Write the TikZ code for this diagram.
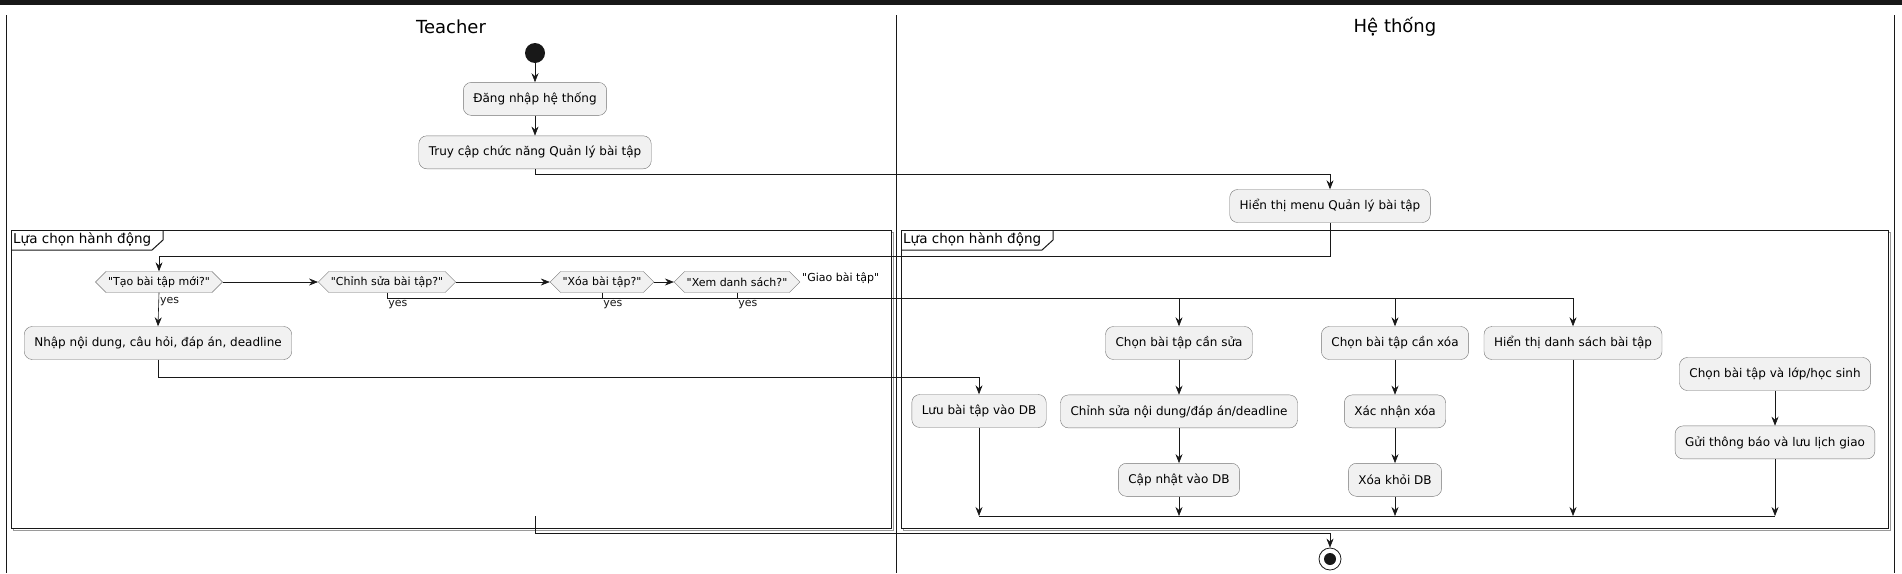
\documentclass[tikz,border=0pt]{standalone}
\usepackage{fontspec}
\setmainfont{DejaVu Sans}[Ligatures=TeXOff]
\usetikzlibrary{positioning, arrows.meta, shapes.symbols, calc}

\definecolor{actfill}{HTML}{F1F1F1}
\definecolor{actline}{HTML}{181818}
\definecolor{shadowgray}{HTML}{9A9A9A}

\begin{document}
\begin{tikzpicture}[
    x=1pt, y=-1pt,
    node distance=35pt,
    action/.style={rectangle, draw=actline!60, fill=actfill, rounded corners=8pt, minimum height=33pt, inner xsep=10pt, font=\fontsize{12}{14}\selectfont},
    choice/.style={signal, signal to=east and west, draw=actline!60, fill=actfill, minimum height=21pt, inner xsep=2pt, inner ysep=2pt, font=\fontsize{11}{13}\selectfont},
    lane/.style={line width=0.8pt, actline},
    frame/.style={draw=actline, line width=1pt},
    arrow/.style={line width=0.6pt, actline, -{Stealth[length=9pt, width=7pt, inset=3pt]}},
    flow/.style={line width=0.6pt, actline},
    lbl/.style={font=\fontsize{11}{13}\selectfont, inner sep=1pt},
    title/.style={font=\fontsize{18}{21}\selectfont}
    ]
    \useasboundingbox (0,0) rectangle (1902,573);

    % swimlanes
    \fill[actline] (0,0) rectangle (1902,5);
    \draw[lane] (6,15) -- (6,573);
    \draw[lane] (896,15) -- (896,573);
    \draw[lane] (1894,15) -- (1894,573);
    \node[title] (teacher) at (451,27) {Teacher};
    \node[title] (hethong) at (1395,27) {Hệ thống};

    % partitions
    \draw[shadowgray, line width=1pt] (13,232) rectangle (893,530);
    \draw[shadowgray, line width=1pt] (903,232) rectangle (1890,530);
    \draw[frame, fill=white] (11,230) rectangle (891,528);
    \draw[frame, fill=white] (901,230) rectangle (1888,528);
    \draw[frame] (11,250) -- (152,250) -- (163,240) -- (163,230);
    \draw[frame] (901,250) -- (1042,250) -- (1053,240) -- (1053,230);
    \node[anchor=west, inner sep=1pt, font=\fontsize{13.5}{16}\selectfont] (partL) at (12,240) {Lựa chọn hành động};
    \node[anchor=west, inner sep=1pt, font=\fontsize{13.5}{16}\selectfont] (partR) at (902,240) {Lựa chọn hành động};

    % Teacher
    \node[circle, fill=actline, minimum size=20pt, inner sep=0pt] (start) at (535,53) {};
    \node[action, below=19pt of start] (login) {Đăng nhập hệ thống};
    \node[action, below=20pt of login] (truy) {Truy cập chức năng Quản lý bài tập};

    \node[choice] (tao) at (159,282) {"Tạo bài tập mới?"};
    \node[choice] (sua) at (387,282) {"Chỉnh sửa bài tập?"};
    \node[choice] (xoa) at (602,282) {"Xóa bài tập?"};
    \node[choice] (xem) at (737,282) {"Xem danh sách?"};
    \node[lbl, anchor=west] (giao) at (801,278) {"Giao bài tập"};

    \node[action] (nhap) at (158,343) {Nhập nội dung, câu hỏi, đáp án, deadline};

    % He thong
    \node[action] (menu) at (1330,206) {Hiển thị menu Quản lý bài tập};
    \node[action] (luu) at (979,411) {Lưu bài tập vào DB};
    \node[action] (chonsua) at (1179,343) {Chọn bài tập cần sửa};
    \node[action, below=of chonsua] (suand) {Chỉnh sửa nội dung/đáp án/deadline};
    \node[action, below=of suand] (capnhat) {Cập nhật vào DB};
    \node[action] (chonxoa) at (1395,343) {Chọn bài tập cần xóa};
    \node[action, below=of chonxoa] (xacnhan) {Xác nhận xóa};
    \node[action, below=of xacnhan] (xoadb) {Xóa khỏi DB};
    \node[action] (hiends) at (1573,343) {Hiển thị danh sách bài tập};
    \node[action] (chongiao) at (1775,374) {Chọn bài tập và lớp/học sinh};
    \node[action, below=of chongiao] (gui) {Gửi thông báo và lưu lịch giao};

    \coordinate (merge) at (0,516);
    \coordinate (fin) at (535,516);
    \node[circle, draw=actline, line width=0.8pt, minimum size=22pt, inner sep=0pt] (stop) at (1330,559) {};
    \fill[actline] (stop) circle (6pt);

    % connectors
    \draw[arrow] (start) -- (login);
    \draw[arrow] (login) -- (truy);
    \draw[arrow] (truy.south) -- ++(0,5) -| (menu.north);
    \draw[arrow] (menu.south) -- ++(0,34) -| (tao.north);
    \draw[arrow] (tao.east) -- (sua.west);
    \draw[arrow] (sua.east) -- (xoa.west);
    \draw[arrow] (xoa.east) -- (xem.west);
    \draw[arrow] (tao.south) -- node[lbl, right, pos=0.25] {yes} (nhap.north);
    \draw[arrow] (sua.south) -- ++(0,6) node[lbl, anchor=north west] {yes} -| (chonsua.north);
    \draw[arrow] (xoa.south) -- ++(0,6) node[lbl, anchor=north west] {yes} -| (chonxoa.north);
    \draw[arrow] (xem.south) -- ++(0,6) node[lbl, anchor=north west] {yes} -| (hiends.north);
    \draw[arrow] (nhap.south) -- ++(0,18) -| (luu.north);

    \draw[arrow] (chonsua) -- (suand);
    \draw[arrow] (suand) -- (capnhat);
    \draw[arrow] (chonxoa) -- (xacnhan);
    \draw[arrow] (xacnhan) -- (xoadb);
    \draw[arrow] (chongiao) -- (gui);

    \draw[arrow] (luu.south) -- (luu.south |- merge);
    \draw[arrow] (capnhat.south) -- (capnhat.south |- merge);
    \draw[arrow] (xoadb.south) -- (xoadb.south |- merge);
    \draw[arrow] (hiends.south) -- (hiends.south |- merge);
    \draw[arrow] (gui.south) -- (gui.south |- merge);
    \draw[flow] (luu.south |- merge) -- (gui.south |- merge);

    \draw[arrow] (fin) -- ++(0,17) -| (stop.north);
\end{tikzpicture}
\end{document}
